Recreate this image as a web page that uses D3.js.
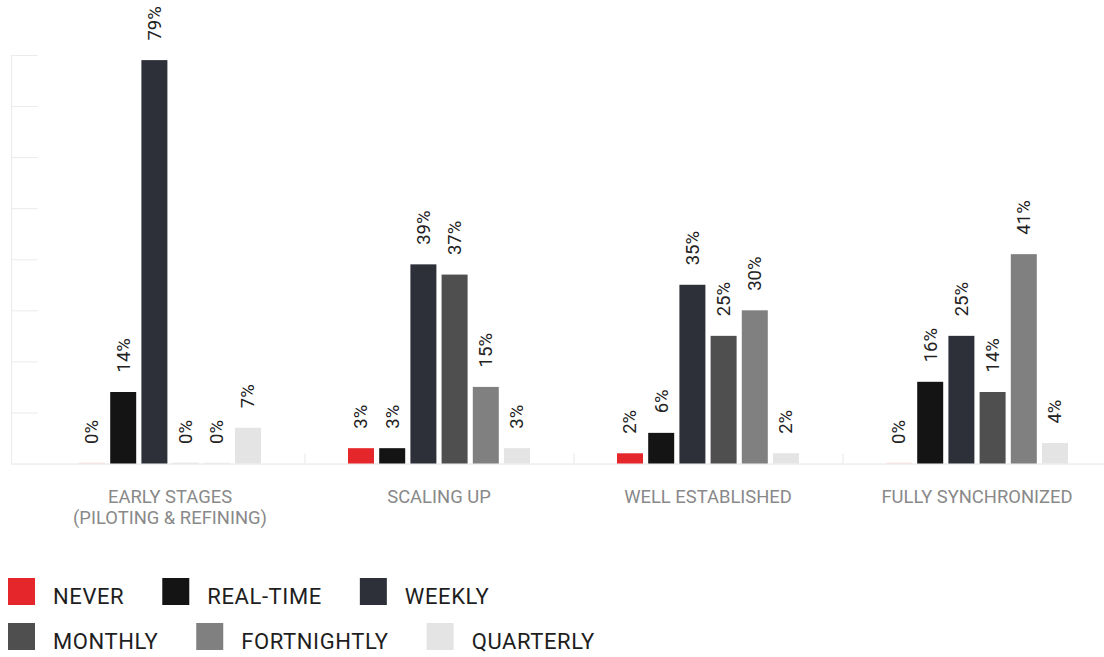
<!DOCTYPE html>
<html>
<head>
<meta charset="utf-8">
<script src="https://cdn.jsdelivr.net/npm/d3@7"></script>
<style>
  html, body { margin: 0; padding: 0; background: #fff; }
  svg { display: block; font-family: Roboto, "Noto Sans", sans-serif; }
</style>
</head>
<body>
<svg id="chart" width="1104" height="657"></svg>
<script>
// Stages of maturity (x groups)
const categories = [
  ["EARLY STAGES", "(PILOTING & REFINING)"],
  ["SCALING UP"],
  ["WELL ESTABLISHED"],
  ["FULLY SYNCHRONIZED"]
];

// Update frequencies (series)
const seriesNames = ["NEVER", "REAL-TIME", "WEEKLY", "MONTHLY", "FORTNIGHTLY", "QUARTERLY"];
const seriesColors = ["#e5272b", "#141414", "#2d3039", "#4f4f4f", "#808080", "#e4e4e4"];

// Share of respondents (%) per stage, in series order
const earlyStages       = [0, 14, 79, 0, 0, 7];
const scalingUp         = [3, 3, 39, 37, 15, 3];
const wellEstablished   = [2, 6, 35, 25, 30, 2];
const fullySynchronized = [0, 16, 25, 14, 41, 4];
const values = [earlyStages, scalingUp, wellEstablished, fullySynchronized];

const yTicks = [0, 10, 20, 30, 40, 50, 60, 70, 80];

const svg = d3.select("#chart");

const y = d3.scaleLinear().domain([0, 80]).range([463.5, 55]);
const x0 = d3.scaleBand().domain(d3.range(categories.length)).range([35.5, 1111.5]);
const groupW = 187.2;
const x1 = d3.scaleBand().domain(seriesNames).range([0, groupW])
  .paddingInner(1 / 6).paddingOuter(1 / 12);

const axisX = 11;

// short horizontal grid ticks along the left axis
const yAxis = d3.axisRight(y).tickValues(yTicks.slice(1)).tickSize(27).tickFormat("");
const gy = svg.append("g").attr("transform", `translate(${axisX},0)`).call(yAxis);
gy.select(".domain").remove();
gy.selectAll(".tick line").attr("stroke", "#ebebeb").attr("stroke-width", 1);

// left axis line
svg.append("line")
  .attr("x1", axisX + 0.5).attr("x2", axisX + 0.5)
  .attr("y1", y(80)).attr("y2", y(0))
  .attr("stroke", "#ebebeb");

// baseline
svg.append("line")
  .attr("x1", axisX).attr("x2", 1104)
  .attr("y1", y(0) + 0.5).attr("y2", y(0) + 0.5)
  .attr("stroke", "#e6e6e6");

// separators between stage groups
svg.selectAll("line.sep")
  .data(d3.range(1, categories.length))
  .join("line")
  .attr("class", "sep")
  .attr("x1", i => x0(i) + 0.5).attr("x2", i => x0(i) + 0.5)
  .attr("y1", y(0) - 10).attr("y2", y(0))
  .attr("stroke", "#e6e6e6");

// bar groups
const groups = svg.selectAll("g.grp")
  .data(values)
  .join("g")
  .attr("class", "grp")
  .attr("transform", (d, i) => `translate(${x0(i) + x0.bandwidth() / 2 - groupW / 2},0)`);

const cells = d => d.map((v, j) => ({ v, name: seriesNames[j], color: seriesColors[j] }));

groups.selectAll("rect")
  .data(cells)
  .join("rect")
  .attr("x", d => x1(d.name))
  .attr("width", x1.bandwidth())
  .attr("y", d => d.v > 0 ? y(d.v) : y(0) - 1)
  .attr("height", d => d.v > 0 ? y(0) - y(d.v) : 1)
  .attr("fill", d => d.color)
  .attr("fill-opacity", d => d.v > 0 ? 1 : 0.12);

// rotated value labels
groups.selectAll("text.val")
  .data(cells)
  .join("text")
  .attr("class", "val")
  .attr("transform", d => `translate(${x1(d.name) + x1.bandwidth() / 2},${y(d.v) - 19.5}) rotate(-90)`)
  .attr("dy", "0.35em")
  .attr("text-anchor", "start")
  .attr("font-size", 18.5)
  .attr("fill", "#222")
  .text(d => d.v + "%");

// stage labels
const xl = svg.selectAll("text.cat")
  .data(categories)
  .join("text")
  .attr("class", "cat")
  .attr("text-anchor", "middle")
  .attr("font-size", 18.4)
  .attr("fill", "#898989")
  .attr("transform", (d, i) => `translate(${x0(i) + x0.bandwidth() / 2},502.5)`);
xl.selectAll("tspan")
  .data(d => d)
  .join("tspan")
  .attr("x", 0)
  .attr("y", (d, k) => k * 21)
  .text(d => d);

// legend: two rows of three
const legendRows = [seriesNames.slice(0, 3), seriesNames.slice(3)];
const rowTop = [578, 623];
legendRows.forEach((row, r) => {
  let cx = 8;
  row.forEach(name => {
    const g = svg.append("g").attr("transform", `translate(${cx},${rowTop[r]})`);
    g.append("rect").attr("width", 27).attr("height", 27)
      .attr("fill", seriesColors[seriesNames.indexOf(name)]);
    const t = g.append("text")
      .attr("x", 45).attr("y", 26)
      .attr("font-size", 22)
      .attr("letter-spacing", "0.6px")
      .attr("fill", "#1e1e1e")
      .text(name);
    cx += 45 + t.node().getComputedTextLength() + 38;
  });
});
</script>
</body>
</html>
